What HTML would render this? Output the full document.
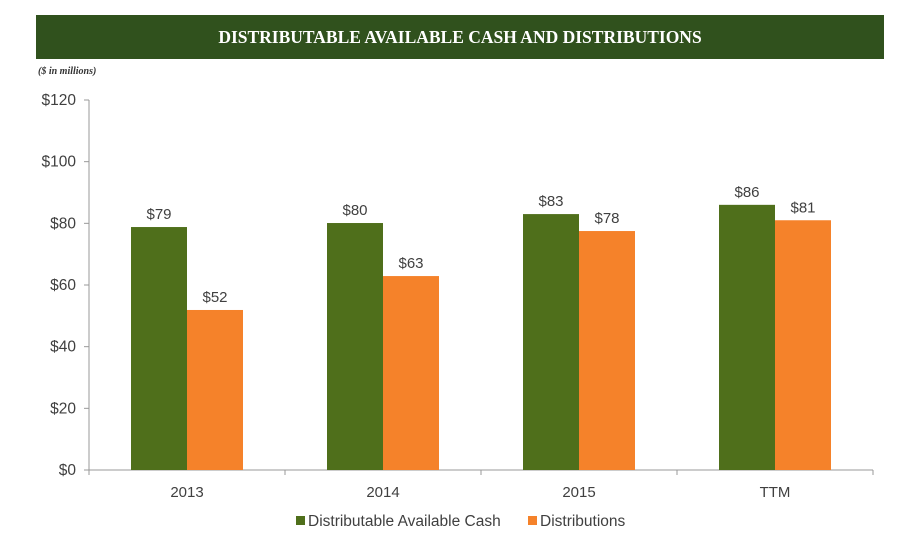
<!DOCTYPE html>
<html><head><meta charset="utf-8">
<style>
body{margin:0;background:#fff;width:916px;height:560px;overflow:hidden;font-family:"Liberation Sans",sans-serif;}
#hdr{position:absolute;left:36px;top:15px;width:848px;height:44px;background:#30511d;color:#fff;font-family:"Liberation Serif",serif;font-weight:bold;font-size:17.5px;text-align:center;line-height:44px;}
#unit{position:absolute;left:38px;top:66px;font-family:"Liberation Serif",serif;font-style:italic;font-weight:bold;font-size:10px;color:#333;}
</style></head><body>
<div id="hdr">DISTRIBUTABLE AVAILABLE CASH AND DISTRIBUTIONS</div>
<div id="unit">($ in millions)</div>
<svg id="c" width="916" height="560" style="position:absolute;left:0;top:0"></svg>
<script>
const categories=["2013","2014","2015","TTM"];
const cashValues=[78.8,80.1,83,86];
const distValues=[51.9,62.9,77.5,81];
const cashLabels=["$79","$80","$83","$86"];
const distLabels=["$52","$63","$78","$81"];
const yTicks=[0,20,40,60,80,100,120];
const NS="http://www.w3.org/2000/svg";
const svg=document.getElementById('c');
const x0=89,x1=873,yTop=100,yBot=470,ymax=120;
const y=v=>yBot-(v/ymax)*(yBot-yTop);
const band=(x1-x0)/categories.length;
const cx=i=>x0+band*(i+0.5);
function mk(t,a){const e=document.createElementNS(NS,t);for(const k in a)e.setAttribute(k,a[k]);svg.appendChild(e);return e;}
let ax=mk('line',{x1:x0,x2:x0,y1:yTop,y2:yBot,stroke:'#999'});


let xa=mk('line',{x1:x0,x2:x1,y1:yBot,y2:yBot,stroke:'#999'});


yTicks.forEach(v=>{
  mk('line',{x1:x0-5,x2:x0,y1:y(v),y2:y(v),stroke:'#999'});
  const t=mk('text',{x:76,y:y(v)+5,'text-anchor':'end','font-size':15.5,fill:'#404040'});
  t.textContent='$'+v;
  
  
});
for(let i=0;i<=categories.length;i++){const xx=x0+band*i;mk('line',{x1:xx,x2:xx,y1:yBot,y2:yBot+5,stroke:'#999'});}
const bw=56;
categories.forEach((c,i)=>{
  const g=mk('rect',{x:cx(i)-bw,y:y(cashValues[i]),width:bw,height:yBot-y(cashValues[i]),fill:'#4f6f1b'});
  
  
  const o=mk('rect',{x:cx(i),y:y(distValues[i]),width:bw,height:yBot-y(distValues[i]),fill:'#f5822a'});
  
  
  const l1=mk('text',{x:cx(i)-bw/2,y:y(cashValues[i])-8,'text-anchor':'middle','font-size':15,fill:'#404040'});
  l1.textContent=cashLabels[i];
  
  
  const l2=mk('text',{x:cx(i)+bw/2,y:y(distValues[i])-8,'text-anchor':'middle','font-size':15,fill:'#404040'});
  l2.textContent=distLabels[i];
  
  
  const xl=mk('text',{x:cx(i),y:497,'text-anchor':'middle','font-size':15,fill:'#404040'});
  xl.textContent=c;
  
  
});
const r1=mk('rect',{x:296,y:516,width:9,height:9,fill:'#4f6f1b'});


const t1=mk('text',{x:308,y:526,'font-size':15.5,fill:'#404040'});t1.textContent='Distributable Available Cash';


const r2=mk('rect',{x:528,y:516,width:9,height:9,fill:'#f5822a'});


const t2=mk('text',{x:540,y:526,'font-size':15.5,fill:'#404040'});t2.textContent='Distributions';


</script>
</body></html>
